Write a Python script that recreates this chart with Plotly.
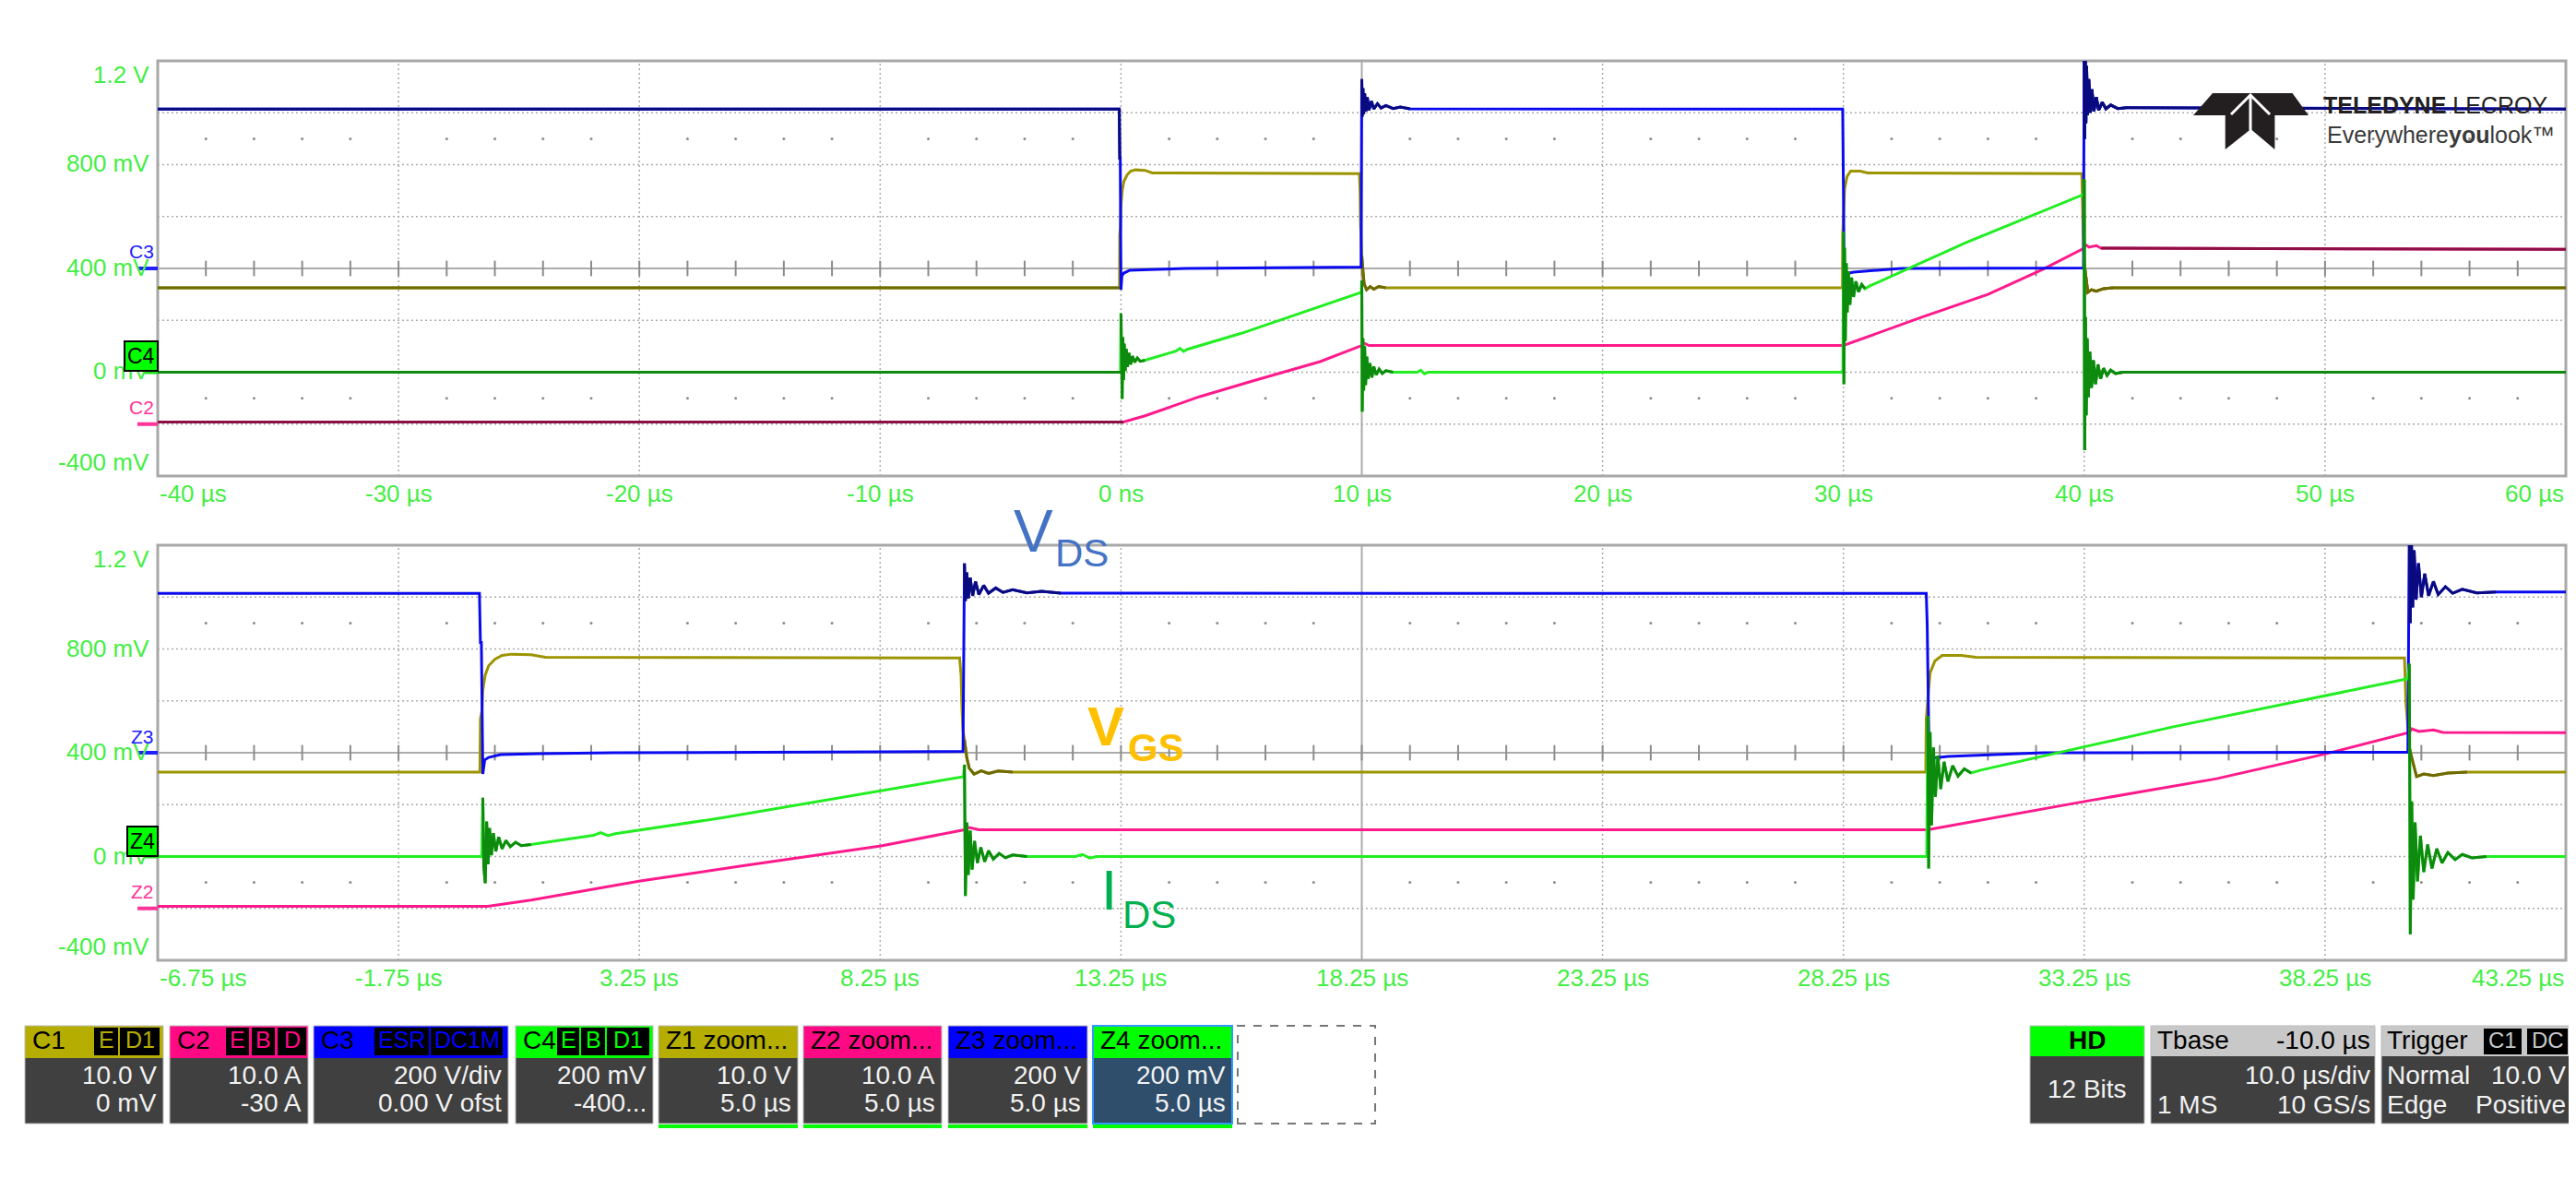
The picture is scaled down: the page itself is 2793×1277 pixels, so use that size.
import plotly.graph_objects as go

W, H = 2793, 1277          # browser window
OFF = 8                    # default body margin of the html page
FW, FH = W - OFF, H - OFF  # figure size so that the page fits the window exactly
FONT = "Liberation Sans, Arial, sans-serif"

# ---------------- data (time in µs, screen value in mV) ----------------
VDS_T = [-40.0, -0.07, -0.05, -0.03, 0.0, 0.04, 0.12, 0.37, 1.2, 2.7, 9.97,
         10.0, 10.02, 10.05, 10.08, 10.12, 10.17, 10.23, 10.3, 10.4, 10.5, 10.65, 10.8, 11.0, 11.3, 11.6, 12.0, 29.97,
         29.99, 30.01, 30.03, 30.06, 30.42, 32.4, 39.97,
         40.0, 40.02, 40.04, 40.07, 40.1, 40.14, 40.19, 40.25, 40.32, 40.4, 40.5, 40.6, 40.75, 40.9, 41.1, 41.4, 41.8, 60.0]
VDS_V = [1014, 1014, 825, 825, 318, 372, 382, 393, 396, 400, 405,
         1130, 985, 1095, 995, 1075, 1005, 1060, 1010, 1045, 1015, 1035, 1018, 1028, 1016, 1022, 1015, 1014,
         892, 612, 372, 379, 386, 400, 402,
         1300, 900, 1260, 960, 1180, 990, 1130, 1000, 1090, 1005, 1060, 1010, 1040, 1015, 1030, 1016, 1020, 1014]

VGS_T = [-40.0, -0.06, -0.05, -0.02, 0.0, 0.05, 0.12, 0.25, 0.4, 0.6, 1.0, 1.3, 9.9,
         9.93, 9.95, 9.97, 10.0, 10.05, 10.1, 10.2, 10.35, 10.5, 10.7, 11.0, 29.96,
         29.97, 30.0, 30.05, 30.15, 30.3, 30.7, 31.0, 39.9,
         39.93, 39.96, 40.0, 40.05, 40.15, 40.3, 40.5, 40.8, 41.2, 60.0]
VGS_V = [325, 325, 530, 560, 640, 700, 735, 760, 775, 780, 778, 768, 765,
         700, 566, 485, 450, 380, 340, 318, 330, 320, 330, 325, 325,
         530, 600, 708, 754, 775, 775, 768, 765,
         591, 520, 420, 379, 308, 318, 312, 322, 325, 325]

IDS_T = [-40.0, -0.02, 0.0, 0.02, 0.05, 0.08, 0.11, 0.14, 0.18, 0.22, 0.27, 0.33, 0.4, 0.48, 0.57, 0.68, 0.8, 1.0,
         2.3, 2.45, 2.6, 2.75, 5.0, 9.98,
         10.0, 10.02, 10.05, 10.08, 10.12, 10.16, 10.21, 10.27, 10.34, 10.42, 10.5, 10.6, 10.72, 10.85, 11.0, 11.3,
         12.3, 12.45, 12.6, 12.75, 29.98,
         30.0, 30.02, 30.05, 30.08, 30.12, 30.16, 30.21, 30.27, 30.34, 30.42, 30.52, 30.63, 30.76, 30.9, 31.1,
         35.1, 39.97,
         40.0, 40.02, 40.05, 40.08, 40.12, 40.17, 40.23, 40.3, 40.38, 40.47, 40.57, 40.68, 40.8, 40.95, 41.1, 41.3, 41.6, 60.0]
IDS_V = [0, 0, 227, -40, -103, 135, -30, 110, 5, 90, 20, 75, 30, 62, 38, 55, 42, 46,
         82, 92, 80, 88, 150, 308,
         354, -152, 131, -71, 100, -50, 60, -25, 35, -20, 22, -10, 12, -5, 6, 0,
         0, 8, -6, 0, 0,
         541, -46, 480, 120, 420, 230, 389, 260, 365, 290, 350, 310, 338, 322, 333,
         500, 685,
         743, -300, 212, -166, 131, -96, 80, -60, 46, -46, 30, -25, 15, -12, 8, -5, 0, 0]

IL_T = [-40.0, 0.1, 1.0, 3.27, 5.5, 8.27, 10.0, 10.1, 10.3, 30.0, 33.25, 36.0, 38.25, 40.0, 40.05, 40.2, 40.5, 40.7, 60.0]
IL_V = [-192, -192, -168, -94, -33, 41, 103, 112, 103, 103, 212, 300, 395, 478, 492, 482, 488, 478, 474]

TRIGGER_T = 0
TRIGGER_LEVEL = 600

UPPER_XTICKS = [-40, -30, -20, -10, 0, 10, 20, 30, 40, 50, 60]
UPPER_XLABELS = ["-40 µs", "-30 µs", "-20 µs", "-10 µs", "0 ns", "10 µs", "20 µs", "30 µs", "40 µs", "50 µs", "60 µs"]
LOWER_XTICKS = [-6.75, -1.75, 3.25, 8.25, 13.25, 18.25, 23.25, 28.25, 33.25, 38.25, 43.25]
LOWER_XLABELS = ["-6.75 µs", "-1.75 µs", "3.25 µs", "8.25 µs", "13.25 µs", "18.25 µs", "23.25 µs",
                 "28.25 µs", "33.25 µs", "38.25 µs", "43.25 µs"]
YTICKS = [-400, 0, 400, 800, 1200]
YLABELS = ["-400 mV", "0 mV", "400 mV", "800 mV", "1.2 V"]

BOX_TITLES = ["C1", "C2", "C3", "C4", "Z1 zoom...", "Z2 zoom...", "Z3 zoom...", "Z4 zoom..."]
BOX_LINE1 = ["10.0 V", "10.0 A", "200 V/div", "200 mV", "10.0 V", "10.0 A", "200 V", "200 mV"]
BOX_LINE2 = ["0 mV", "-30 A", "0.00 V ofst", "-400...", "5.0 µs", "5.0 µs", "5.0 µs", "5.0 µs"]
BOX_TAGS = [["E", "D1"], ["E", "B", "D"], ["ESR", "DC1M"], ["E", "B", "D1"], [], [], [], []]

# ---------------- styling / geometry (page pixel coordinates) ----------------
def px(x):
    return (x - OFF) / FW


def py(y):
    return 1 - (y - OFF) / FH


PL, PR = 171, 2782
UP_T, UP_B = 66, 516
LO_T, LO_B = 591, 1041
GRID = "#ABABAB"
LABEL_GREEN = "#44EE44"

CHANNELS = [
    # (T, V, bright, dark, ringing windows (both panels), extra dark windows (upper panel only))
    (VGS_T, VGS_V, "#9C9400", "#6E6A00", [(10.0, 11.0), (40.0, 41.3)], [(-40, -0.06), (40.0, 60)]),
    (IL_T, IL_V, "#FF1A8C", "#8C0F46", [], [(-40, 0.1), (40.7, 60)]),
    (VDS_T, VDS_V, "#0A0AF0", "#0A0A80", [(10.0, 12.0), (40.0, 42.0)], [(-40, -0.03), (40.0, 60)]),
    (IDS_T, IDS_V, "#22EE22", "#0E8A0E", [(0.0, 1.0), (10.0, 11.3), (30.0, 30.9), (40.0, 41.6)],
     [(-40, -0.02), (40.0, 60)]),
]

panels = [
    dict(xa="x", ya="y", xr=(-40, 60), major=10, minor=2, center=10, xt=UPPER_XTICKS, xl=UPPER_XLABELS,
         top=UP_T, bot=UP_B, upper=True, trig_color="#A09800", lab_y=535,
         marks=[("C3", "#2020FF", 400), ("C2", "#FF3399", -200)], box="C4"),
    dict(xa="x2", ya="y2", xr=(-6.75, 43.25), major=5, minor=1, center=18.25, xt=LOWER_XTICKS, xl=LOWER_XLABELS,
         top=LO_T, bot=LO_B, upper=False, trig_color="#22DD22", lab_y=1060,
         marks=[("Z3", "#2020FF", 400), ("Z2", "#FF3399", -200)], box="Z4"),
]

fig = go.Figure()
shapes = []
annots = []


def select(t, v, windows):
    xs, ys = [], []
    for a, b in windows:
        idx = [i for i, tt in enumerate(t) if a <= tt <= b]
        if len(idx) > 1:
            xs += [t[i] for i in idx] + [None]
            ys += [v[i] for i in idx] + [None]
    return xs, ys


for p in panels:
    xa, ya = p["xa"], p["ya"]
    yd = ya + " domain"
    x0, x1 = p["xr"]
    nmin = round((x1 - x0) / p["minor"])
    minors = [x0 + i * p["minor"] for i in range(1, nmin)]
    nmaj = round((x1 - x0) / p["major"])
    majors = [x0 + i * p["major"] for i in range(1, nmaj)]
    # vertical grid
    for m in majors:
        solid = abs(m - p["center"]) < 1e-9
        shapes.append(dict(type="line", xref=xa, yref=yd, x0=m, x1=m, y0=0, y1=1, layer="below",
                           line=dict(color=GRID, width=2 if solid else 1.5, dash="solid" if solid else "2px,3px")))
    # horizontal grid
    for yv in range(-200, 1200, 200):
        solid = yv == 400
        shapes.append(dict(type="line", xref=xa + " domain", yref=ya, x0=0, x1=1, y0=yv, y1=yv, layer="below",
                           line=dict(color=GRID, width=2 if solid else 1.5, dash="solid" if solid else "2px,3px")))
    # frame
    shapes.append(dict(type="rect", xref=xa + " domain", yref=yd, x0=0, x1=1, y0=0, y1=1, layer="below",
                       line=dict(color="#A8A8A8", width=3)))
    # ticks on the centre line
    fig.add_trace(go.Scatter(x=minors, y=[400] * len(minors), mode="markers", xaxis=xa, yaxis=ya,
                             marker=dict(symbol="line-ns", size=12, line=dict(color="#8C8C8C", width=2)),
                             hoverinfo="skip", showlegend=False))
    dots = [m for m in minors if all(abs(m - M) > 1e-9 for M in majors)]
    fig.add_trace(go.Scatter(x=dots * 2, y=[900] * len(dots) + [-100] * len(dots), mode="markers",
                             xaxis=xa, yaxis=ya, marker=dict(symbol="circle", size=3, color="#8C8C8C"),
                             hoverinfo="skip", showlegend=False))
    # waveforms
    for t, v, bright, dark, ring, extra in CHANNELS:
        fig.add_trace(go.Scatter(x=t, y=v, mode="lines", xaxis=xa, yaxis=ya,
                                 line=dict(color=bright, width=3), hoverinfo="skip", showlegend=False))
        dx, dy = select(t, v, ring + (extra if p["upper"] else []))
        if dx:
            fig.add_trace(go.Scatter(x=dx, y=dy, mode="lines", xaxis=xa, yaxis=ya,
                                     line=dict(color=dark, width=3), hoverinfo="skip", showlegend=False))
    # trigger position arrow
    ppx = (p["bot"] - p["top"]) / 1600.0
    fig.add_trace(go.Scatter(x=[TRIGGER_T], y=[-400 - 9 / ppx], mode="markers", xaxis=xa, yaxis=ya,
                             cliponaxis=False, marker=dict(symbol="triangle-up", size=15, color=p["trig_color"]),
                             hoverinfo="skip", showlegend=False))
    # x labels
    n = len(p["xt"])
    for i, (xv, lab) in enumerate(zip(p["xt"], p["xl"])):
        anchor = "left" if i == 0 else ("right" if i == n - 1 else "center")
        annots.append(dict(xref=xa, yref="paper", x=xv, y=py(p["lab_y"]), text=lab, showarrow=False,
                           xanchor=anchor, yanchor="middle", font=dict(size=26, color=LABEL_GREEN, family=FONT)))
    # y labels
    for yv, lab in zip(YTICKS, YLABELS):
        shift = -15 if yv == 1200 else (15 if yv == -400 else 1)
        annots.append(dict(xref="paper", yref=ya, x=px(164), y=yv, yshift=shift, text=lab, showarrow=False,
                           xanchor="right", yanchor="middle", font=dict(size=26, color=LABEL_GREEN, family=FONT)))
    # channel markers on the left
    for name, col, lev in p["marks"]:
        annots.append(dict(xref="paper", yref=ya, x=px(169), y=lev, yshift=18, text=name, showarrow=False,
                           xanchor="right", yanchor="middle", font=dict(size=21, color=col, family=FONT)))
        shapes.append(dict(type="line", xref="paper", yref=ya, x0=px(149), x1=px(171), y0=lev, y1=lev,
                           line=dict(color=col, width=4)))
    shapes.append(dict(type="line", xref="paper", yref=ya, x0=px(156), x1=px(171), y0=0, y1=0,
                       line=dict(color="#22DD22", width=4)))
    annots.append(dict(xref="paper", yref=ya, x=px(172), y=0, yshift=17, text=p["box"], showarrow=False,
                       xanchor="right", yanchor="middle", bgcolor="#00FF00", bordercolor="#000000",
                       borderwidth=2, borderpad=2, font=dict(size=23, color="#000000", family=FONT)))

# trigger level marker at right edge of upper grid
fig.add_trace(go.Scatter(x=[60 + 7 * 100 / (PR - PL)], y=[TRIGGER_LEVEL], mode="markers", xaxis="x", yaxis="y",
                         cliponaxis=False, marker=dict(symbol="triangle-left", size=15, color="#A09800"),
                         hoverinfo="skip", showlegend=False))

# ---------------- signal name labels ----------------
def txt(x, y, s, size, color, anchor="left", bold=False, family=FONT, ya="middle"):
    if bold:
        s = "<b>" + s + "</b>"
    annots.append(dict(xref="paper", yref="paper", x=px(x), y=py(y), text=s, showarrow=False,
                       xanchor=anchor, yanchor=ya, font=dict(size=size, color=color, family=family)))


txt(1097, 576, "V", 64, "#4472C4")
txt(1142, 599, "DS", 42, "#4472C4")
txt(1177, 787, "V", 60, "#FFC000", bold=True)
txt(1221, 810, "GS", 42, "#FFC000", bold=True)
txt(1192, 964, "I", 62, "#00B050")
txt(1215, 991, "DS", 42, "#00B050")

# ---------------- logo ----------------
def path(pts):
    return "M " + " L ".join(f"{px(a):.5f},{py(b):.5f}" for a, b in pts) + " Z"


logo = [(2399, 101), (2485.5, 101), (2503, 125), (2466.4, 125), (2466.4, 162), (2440.4, 140),
        (2412.7, 162), (2412.7, 125), (2378, 125)]
shapes.append(dict(type="path", xref="paper", yref="paper", path=path(logo), fillcolor="#231F20",
                   line=dict(width=0), layer="above"))
shapes.append(dict(type="path", xref="paper", yref="paper",
                   path=f"M {px(2419):.5f},{py(124):.5f} L {px(2440):.5f},{py(103):.5f} L {px(2461):.5f},{py(124):.5f}",
                   line=dict(color="white", width=3), layer="above"))
shapes.append(dict(type="line", xref="paper", yref="paper", x0=px(2440), x1=px(2440), y0=py(103), y1=py(141),
                   line=dict(color="white", width=3), layer="above"))
txt(2517, 114, "<b>TELEDYNE</b> LECROY", 25, "#231F20")
txt(2521, 146, "Everywhere<b>you</b>look™", 25, "#3A3A3A")

# ---------------- channel boxes ----------------
def rect(x0, y0, x1, y1, fill, line=None, lw=0, dash="solid"):
    shapes.append(dict(type="rect", xref="paper", yref="paper", x0=px(x0), x1=px(x1), y0=py(y1), y1=py(y0),
                       fillcolor=fill, line=dict(width=lw, color=line or fill, dash=dash), layer="above"))


BOX_X = [(27, 177), (184, 334), (340, 551), (559, 708), (714, 865), (871, 1021), (1028, 1179), (1185, 1336)]
TAG_X = [[(102, 128), (130, 173)], [(245, 270), (273, 298), (301, 332)], [(406, 465), (467, 545)],
         [(604, 628), (630, 656), (658, 704)], [], [], [], []]
HEAD_COL = ["#B5AD00", "#FF0A84", "#0000FF", "#00FF00"] * 2
HT, HB, BB = 1112, 1147, 1218
TY, L1, L2 = 1127, 1165, 1195

for i, (x0, x1) in enumerate(BOX_X):
    body = "#2E4E6C" if i == 7 else "#404040"
    rect(x0, HT, x1, HB, HEAD_COL[i])
    rect(x0, HB, x1, BB, body)
    rect(x0, HT, x1, BB, "rgba(0,0,0,0)", line="#3399FF" if i == 7 else "#BBBBBB", lw=2 if i == 7 else 1)
    txt(x0 + 6, TY, BOX_TITLES[i], 28, "#000000")
    for tag, (a, b) in zip(BOX_TAGS[i], TAG_X[i]):
        rect(a, 1114, b, 1144, "#000000")
        annots.append(dict(xref="paper", yref="paper", x=px((a + b) / 2), y=py(TY), text=tag, showarrow=False,
                           xanchor="center", yanchor="middle", font=dict(size=25, color=HEAD_COL[i], family=FONT)))
    txt(x1 - 5, L1, BOX_LINE1[i], 28, "#F2F2F2", anchor="right")
    txt(x1 - 5, L2, BOX_LINE2[i], 28, "#F2F2F2", anchor="right")
    if i >= 4:
        rect(x0, 1219, x1, 1223, "#00FF00")

rect(1342, 1112, 1491, 1218, "rgba(0,0,0,0)", line="#777777", lw=2, dash="dash")

# HD box
rect(2201, 1112, 2325, 1145, "#00FF00")
rect(2201, 1145, 2325, 1218, "#404040")
rect(2201, 1112, 2325, 1218, "rgba(0,0,0,0)", line="#BBBBBB", lw=1)
txt(2263, TY, "<b>HD</b>", 28, "#000000", anchor="center")
txt(2263, 1180, "12 Bits", 28, "#F2F2F2", anchor="center")
# Timebase box
rect(2332, 1112, 2575, 1145, "#C8C8C8")
rect(2332, 1145, 2575, 1218, "#404040")
rect(2332, 1112, 2575, 1218, "rgba(0,0,0,0)", line="#BBBBBB", lw=1)
txt(2337, TY, "Tbase", 28, "#000000")
txt(2572, TY, "-10.0 µs", 28, "#000000", anchor="right")
txt(2572, L1, "10.0 µs/div", 28, "#F2F2F2", anchor="right")
txt(2337, L2 + 2, "1 MS", 28, "#F2F2F2")
txt(2572, L2 + 2, "10 GS/s", 28, "#F2F2F2", anchor="right")
# Trigger box
rect(2582, 1112, 2793, 1145, "#C8C8C8")
rect(2582, 1145, 2793, 1218, "#404040")
rect(2582, 1112, 2793, 1218, "rgba(0,0,0,0)", line="#BBBBBB", lw=1)
txt(2586, TY, "Trigger", 28, "#000000")
for tag, (a, b) in zip(["C1", "DC"], [(2693, 2734), (2740, 2784)]):
    rect(a, 1115, b, 1143, "#000000")
    annots.append(dict(xref="paper", yref="paper", x=px((a + b) / 2), y=py(TY), text=tag, showarrow=False,
                       xanchor="center", yanchor="middle", font=dict(size=24, color="#C8C8C8", family=FONT)))
txt(2586, L1, "Normal", 28, "#F2F2F2")
txt(2784, L1, "10.0 V", 28, "#F2F2F2", anchor="right")
txt(2586, L2 + 2, "Edge", 28, "#F2F2F2")
txt(2784, L2 + 2, "Positive", 28, "#F2F2F2", anchor="right")

# ---------------- layout ----------------
ax_common = dict(visible=False, showgrid=False, zeroline=False, fixedrange=True)
fig.update_layout(
    width=FW, height=FH, autosize=False,
    margin=dict(l=0, r=0, t=0, b=0),
    paper_bgcolor="white", plot_bgcolor="white",
    showlegend=False,
    xaxis=dict(domain=[px(PL), px(PR)], range=[-40, 60], anchor="y", **ax_common),
    yaxis=dict(domain=[py(UP_B), py(UP_T)], range=[-400, 1200], anchor="x", **ax_common),
    xaxis2=dict(domain=[px(PL), px(PR)], range=[-6.75, 43.25], anchor="y2", **ax_common),
    yaxis2=dict(domain=[py(LO_B), py(LO_T)], range=[-400, 1200], anchor="x2", **ax_common),
    shapes=shapes,
    annotations=annots,
)

fig.write_html("out.html")
